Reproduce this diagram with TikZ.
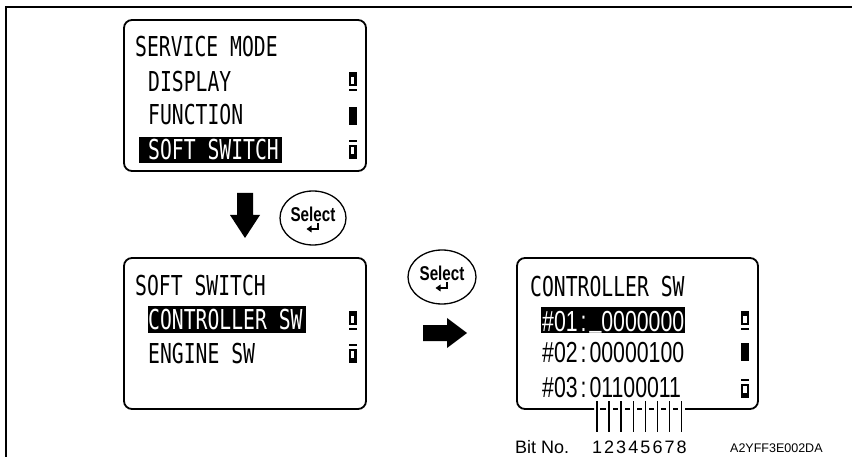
\documentclass[tikz,border=0pt]{standalone}
\usepackage{fontspec}
\newfontfamily\lcdfont[FakeStretch=0.72]{DejaVu Sans Mono}
\newfontfamily\digfont[FakeStretch=0.734]{Liberation Sans}
\newfontfamily\selfont[FakeStretch=0.76]{Liberation Sans Bold}
\newfontfamily\labfont{Liberation Sans}
\newcommand\lcdsize{\fontsize{27.4}{30}\selectfont}
\newcommand\colonbox{\hbox to \fontcharwd\font`0{\hss:\hss}}
\newcommand\cursorbar{\raisebox{4pt}{\_}}
\begin{document}
\begin{tikzpicture}[x=1pt,y=-1pt,
  lcdbox/.style={draw, line width=1.8pt, rounded corners=8pt},
  lcdtxt/.style={anchor=base west, inner sep=0pt, font=\lcdfont\lcdsize},
  digtxt/.style={anchor=base west, inner sep=0pt, font=\digfont\fontsize{29}{32}\selectfont},
  seltxt/.style={anchor=base, inner sep=0pt, font=\selfont\fontsize{20}{22}\selectfont},
  labtxt/.style={anchor=base west, inner sep=0pt, font=\labfont\fontsize{18}{20}\selectfont},
  bitnum/.style={anchor=base, inner sep=0pt, font=\labfont\fontsize{18}{20}\selectfont},
  codetxt/.style={anchor=base west, inner sep=0pt, font=\labfont\fontsize{12.5}{14}\selectfont},
  selbtn/.style={draw, line width=1.3pt},
  blockarrow/.style={fill=black},
  upicon/.pic={\fill (0,0) rectangle (8,14); \fill[white] (2.3,5) rectangle (5.7,11.6); \fill (0,16.8) rectangle (8,18.6);},
  midicon/.pic={\fill (0,0) rectangle (8,18);},
  downicon/.pic={\fill (0,0) rectangle (8,1.8); \fill (0,4.6) rectangle (8,18.6); \fill[white] (2.3,7) rectangle (5.7,13.6);},
  entersym/.pic={\draw[line width=1.2pt] (5,5) -- (5,11) -- (-2,11); \fill (-1.5,7.5) -- (-6.5,11) -- (-1.5,14.5) -- cycle;}
]
\useasboundingbox (0,0) rectangle (852,457);
\fill[white] (0,0) rectangle (852,457);
% outer frame
\draw[line width=2pt] (852,7) -- (6,7) -- (6,457);

% ---------- box 1 ----------
\draw[lcdbox] (124,20) rectangle (366,171);
\node[lcdtxt] (b1t1) at (135,57) {SERVICE MODE};
\node[lcdtxt] (b1t2) at (148,92) {DISPLAY};
\node[lcdtxt] (b1t3) at (148,125) {FUNCTION};
\fill (139,137) rectangle (282,163);
\node[lcdtxt, text=white] (b1t4) at (148,160) {SOFT SWITCH};
\pic at (348.5,72) {upicon};
\pic at (348.5,107) {midicon};
\pic at (348.5,140) {downicon};

% ---------- down arrow + select 1 ----------
\fill[blockarrow] (237,193) -- (253,193) -- (253,215) -- (260,215) -- (245,238) -- (230,215) -- (237,215) -- cycle;
\draw[selbtn] (313,218) ellipse [x radius=33, y radius=27];
\node[seltxt] (sel1) at (313,222) {Select};
\pic at (313,218) {entersym};

% ---------- box 2 ----------
\draw[lcdbox] (124,258) rectangle (366,409);
\node[lcdtxt] (b2t1) at (135,296) {SOFT SWITCH};
\fill (148,306) rectangle (306,333);
\node[lcdtxt, text=white] (b2t2) at (148,330) {CONTROLLER SW};
\node[lcdtxt] (b2t3) at (148,363) {ENGINE SW};
\pic at (348.5,311) {upicon};
\pic at (348.5,344) {downicon};

% ---------- select 2 + right arrow ----------
\draw[selbtn] (442,277) ellipse [x radius=34, y radius=27];
\node[seltxt] (sel2) at (442,281) {Select};
\pic at (442,277) {entersym};
\fill[blockarrow] (423,325) -- (447,325) -- (447,318) -- (467,333) -- (447,348) -- (447,341) -- (423,341) -- cycle;

% ---------- box 3 ----------
\draw[lcdbox] (594,409) -- (517,409) -- (517,258) -- (758,258) -- (758,409) -- (685,409);
\node[lcdtxt] (b3t1) at (530,297) {CONTROLLER SW};
\fill (541,307) rectangle (685,333);
\node[digtxt, text=white] (b3t2) at (542,331) {\#01\colonbox\cursorbar0000000};
\node[digtxt] (b3t3) at (542,362) {\#02\colonbox 00000100};
\node[digtxt] (b3t4) at (542,397) {\#03\colonbox 01100011};
\pic at (741,311) {upicon};
\pic at (741,343) {midicon};
\pic at (741,379) {downicon};

% bit lines
\foreach \i in {0,...,7} {
  \draw[line width=1.5pt] (597+12.1*\i,401) -- (597+12.1*\i,432);
  \node[bitnum] at (597+12.1*\i,453) {\the\numexpr\i+1\relax};
}
\foreach \i in {0,...,6} {
  \fill (597+12.1*\i+3.4,408) rectangle (597+12.1*\i+8.7,410.2);
}
\node[labtxt] (bitno) at (515,453) {Bit No.};
\node[codetxt] (code) at (730,452) {A2YFF3E002DA};
\end{tikzpicture}
\end{document}
